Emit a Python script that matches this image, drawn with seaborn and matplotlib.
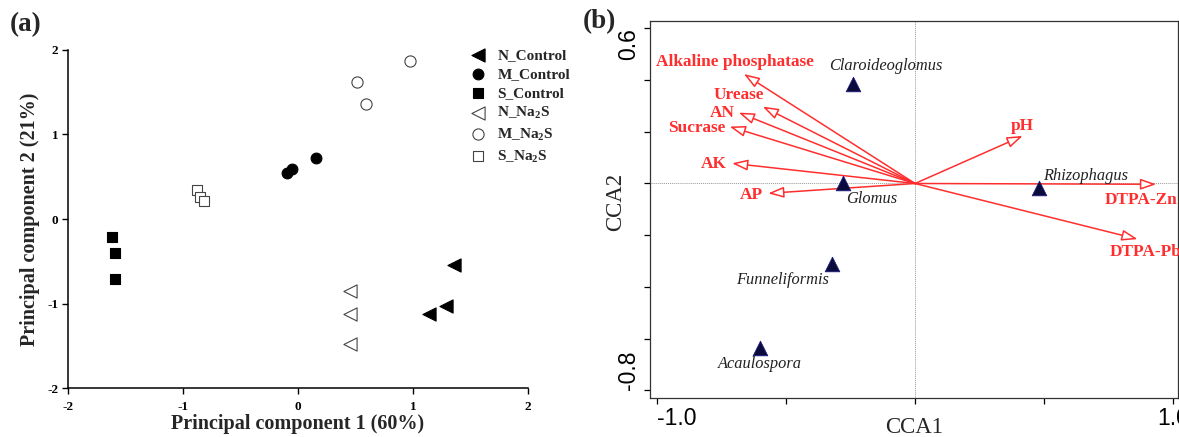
import numpy as np
import pandas as pd
import matplotlib
matplotlib.use("Agg")
import matplotlib.pyplot as plt
import seaborn as sns

# ---------------- data: panel (a) PCA ----------------
groups = ["N_Control", "M_Control", "S_Control", "N_Na2S", "M_Na2S", "S_Na2S"]
pc1 = {
    "N_Control": [1.36, 1.29, 1.14],
    "M_Control": [-0.10, -0.05, 0.16],
    "S_Control": [-1.62, -1.59, -1.59],
    "N_Na2S": [0.45, 0.45, 0.45],
    "M_Na2S": [0.51, 0.59, 0.97],
    "S_Na2S": [-0.88, -0.85, -0.82],
}
pc2 = {
    "N_Control": [-0.54, -1.03, -1.12],
    "M_Control": [0.55, 0.59, 0.72],
    "S_Control": [-0.21, -0.40, -0.71],
    "N_Na2S": [-0.85, -1.13, -1.48],
    "M_Na2S": [1.62, 1.36, 1.87],
    "S_Na2S": [0.34, 0.26, 0.21],
}
legend_labels = ["N_Control", "M_Control", "S_Control",
                 r"N_Na$_\mathbf{2}$S", r"M_Na$_\mathbf{2}$S", r"S_Na$_\mathbf{2}$S"]
a_ticks = [-2, -1, 0, 1, 2]

# ---------------- data: panel (b) CCA ----------------
species = ["Claroideoglomus", "Glomus", "Funneliformis", "Acaulospora", "Rhizophagus"]
sp_cca1 = [-0.24, -0.28, -0.32, -0.60, 0.48]
sp_cca2 = [0.385, 0.003, -0.31, -0.635, -0.016]

variables = ["Alkaline phosphatase", "Urease", "AN", "Sucrase", "AK", "AP",
             "pH", "DTPA-Zn", "DTPA-Pb"]
var_cca1 = [-0.663, -0.59, -0.683, -0.718, -0.709, -0.569, 0.417, 0.934, 0.862]
var_cca2 = [0.423, 0.297, 0.274, 0.220, 0.078, -0.038, 0.184, -0.003, -0.215]
b_xticks = [-1.0, -0.5, 0.0, 0.5, 1.0]
b_xticklabels = ["-1.0", "", "", "", "1.0"]
b_yticks = [0.6, 0.4, 0.2, 0.0, -0.2, -0.4, -0.6, -0.8]
b_yticklabels = ["0.6", "", "", "", "", "", "", "-0.8"]

# ---------------- style ----------------
sns.set_theme(style="ticks")
plt.rcParams["font.family"] = ["Liberation Serif", "DejaVu Serif"]
plt.rcParams["mathtext.fontset"] = "custom"
plt.rcParams["mathtext.rm"] = "Liberation Serif"
plt.rcParams["mathtext.bf"] = "Liberation Serif:bold"
plt.rcParams["axes.unicode_minus"] = False

fig = plt.figure(figsize=(11.79, 4.37), dpi=100)
axa = fig.add_axes([0.0577, 0.1121, 0.3902, 0.7735])
axb = fig.add_axes([0.5513, 0.0899, 0.4479, 0.8620])

# ---------------- panel (a) ----------------
styles = {
    "N_Control": dict(marker="<", fc="black", ec="black", s=90),
    "M_Control": dict(marker="o", fc="black", ec="black", s=60),
    "S_Control": dict(marker="s", fc="black", ec="black", s=55),
    "N_Na2S": dict(marker="<", fc="white", ec="#444444", s=90),
    "M_Na2S": dict(marker="o", fc="white", ec="#444444", s=65),
    "S_Na2S": dict(marker="s", fc="white", ec="#444444", s=60),
}
for g, lab in zip(groups, legend_labels):
    st = styles[g]
    df = pd.DataFrame({"x": pc1[g], "y": pc2[g]})
    sns.scatterplot(data=df, x="x", y="y", ax=axa, marker=st["marker"],
                    s=st["s"], color=st["fc"], edgecolor=st["ec"],
                    linewidth=0.8, label=lab, zorder=3)

axa.set_xlim(-2, 2)
axa.set_ylim(-2, 2)
axa.set_xticks(a_ticks)
axa.set_yticks(a_ticks)
axa.set_xticklabels([str(t) for t in a_ticks], fontweight="bold", fontsize=9.5)
axa.set_yticklabels([str(t) for t in a_ticks], fontweight="bold", fontsize=9.5)
axa.set_xlabel("Principal component 1 (60%)", fontweight="bold", fontsize=14.5, labelpad=1)
axa.set_ylabel("Principal component 2 (21%)", fontweight="bold", fontsize=14.5, labelpad=5)
sns.despine(ax=axa)
for sp in ["left", "bottom"]:
    axa.spines[sp].set_linewidth(1.1)
    axa.spines[sp].set_color("black")
axa.tick_params(axis="both", direction="out", length=4, width=1.0, colors="black")
axa.tick_params(axis="x", pad=5)
axa.tick_params(axis="y", pad=3)
leg = axa.legend(loc="upper left", bbox_to_anchor=(0.857, 1.027), frameon=False,
                 prop={"weight": "bold", "size": 11}, handletextpad=0.8,
                 labelspacing=0.33, borderpad=0, handlelength=1.0,
                 markerscale=1.0)

# ---------------- panel (b) ----------------
axb.set_xlim(-1.027, 1.019)
axb.set_ylim(-0.828, 0.628)
axb.axhline(0, color="#999999", lw=0.7, ls=(0, (1, 1)), zorder=1)
axb.axvline(0, color="#999999", lw=0.7, ls=(0, (1, 1)), zorder=1)

red = "#ff2e2e"
for vx, vy in zip(var_cca1, var_cca2):
    axb.annotate("", xy=(vx, vy), xytext=(0, 0),
                 arrowprops=dict(arrowstyle="-|>,head_length=0.95,head_width=0.33",
                                 fc="white", ec=red, lw=1.1, shrinkA=0, shrinkB=0,
                                 mutation_scale=10), zorder=2)

# label placement (offset pixels from arrow tips)
var_label_pos = {
    "Alkaline phosphatase": ((-9, 12), "center", "center"),
    "Urease": ((-24, 12), "center", "center"),
    "AN": ((-4, 0), "right", "center"),
    "Sucrase": ((-4, -1), "right", "center"),
    "AK": ((-5, -1), "right", "center"),
    "AP": ((-5, -2), "right", "center"),
    "pH": ((0, 10), "center", "center"),
    "DTPA-Zn": ((-51, -16), "left", "center"),
    "DTPA-Pb": ((-28, -13), "left", "center"),
}
for name, vx, vy in zip(variables, var_cca1, var_cca2):
    (dx, dy), ha, va = var_label_pos[name]
    axb.annotate(name, xy=(vx, vy), xytext=(dx, dy), textcoords="offset pixels",
                 ha=ha, va=va, color=red, fontweight="bold", fontsize=12.4,
                 annotation_clip=False)

spdf = pd.DataFrame({"CCA1": sp_cca1, "CCA2": sp_cca2, "genus": species})
sns.scatterplot(data=spdf, x="CCA1", y="CCA2", ax=axb, marker="^", s=110,
                color="#0b0b3b", edgecolor="#1a1a80", linewidth=0.6, zorder=4,
                legend=False)
sp_label_pos = {
    "Claroideoglomus": (33, 18),
    "Glomus": (29, -16),
    "Funneliformis": (-50, -16),
    "Acaulospora": (0, -16),
    "Rhizophagus": (47, 12),
}
for name, sx, sy in zip(species, sp_cca1, sp_cca2):
    dx, dy = sp_label_pos[name]
    axb.annotate(name, xy=(sx, sy), xytext=(dx, dy), textcoords="offset pixels",
                 ha="center", va="center", style="italic", fontsize=11.8,
                 color="#222222")

axb.set_xticks(b_xticks)
axb.set_xticklabels(b_xticklabels, family=["Liberation Sans"], fontsize=16.5)
axb.set_yticks(b_yticks)
axb.set_yticklabels(b_yticklabels, family=["Liberation Sans"], fontsize=16.5,
                    rotation=90, va="center")
yl = axb.get_yticklabels()
yl[0].set_va("top")
yl[-1].set_va("bottom")
xl = axb.get_xticklabels()
xl[0].set_ha("left")
axb.tick_params(axis="both", direction="out", length=4, width=0.9, pad=3,
                colors="black")
axb.set_xlabel("CCA1", fontsize=16.5, va="top")
axb.xaxis.set_label_coords(0.5, -0.052)
axb.set_ylabel("CCA2", fontsize=16.5, va="center")
axb.yaxis.set_label_coords(-0.066, 0.52)
for sp in axb.spines.values():
    sp.set_linewidth(0.9)
    sp.set_color("#333333")

# panel letters
fig.text(0.008, 0.943, "(a)", fontsize=19.5, fontweight="bold", va="center")
fig.text(0.494, 0.95, "(b)", fontsize=19.5, fontweight="bold", va="center")

fig.savefig("out.png", dpi=100)
